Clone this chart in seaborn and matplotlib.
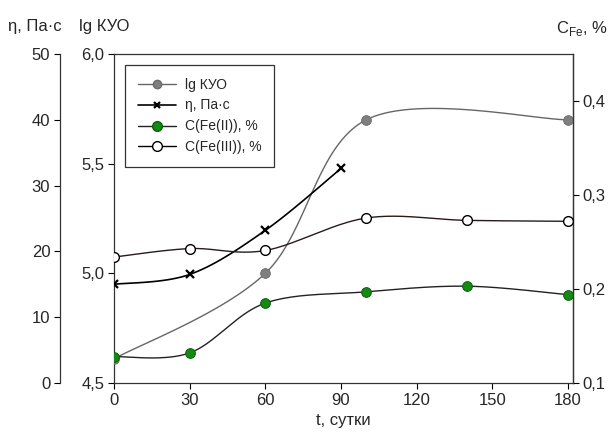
import numpy as np
import pandas as pd
import matplotlib
matplotlib.use("Agg")
import matplotlib.pyplot as plt
import seaborn as sns
from matplotlib.lines import Line2D

# ---- data ----
t_lg = [0, 60, 100, 180]
lg_vals = [4.61, 5.00, 5.70, 5.70]

t_eta = [0, 30, 60, 90]
eta_vals = [15.0, 16.5, 23.2, 32.6]

t_fe = [0, 30, 60, 100, 140, 180]
fe2_vals = [0.128, 0.132, 0.185, 0.197, 0.203, 0.194]
fe3_vals = [0.234, 0.243, 0.241, 0.2755, 0.273, 0.272]

x_ticks = [0, 30, 60, 90, 120, 150, 180]
lg_ticks = [4.5, 5.0, 5.5, 6.0]
eta_ticks = [0, 10, 20, 30, 40, 50]
fe_ticks = [0.1, 0.2, 0.3, 0.4]

sns.set_theme(style="ticks")
plt.rcParams['font.family'] = ['Liberation Sans', 'DejaVu Sans']

W, H = 610, 443
fig = plt.figure(figsize=(W / 100, H / 100), dpi=100)
left, right, top, bottom = 114, 573, 54, 383
ax = fig.add_axes([left / W, 1 - bottom / H, (right - left) / W, (bottom - top) / H])
ax_eta = ax.twinx()
ax_fe = ax.twinx()

ax.set_xlim(0, 182)
ax.set_ylim(4.5, 6.0)
ax_eta.set_ylim(0, 50)
ax_fe.set_ylim(0.1, 0.45)


def smooth(axis, xs, ys, n=40):
    """Excel-style smoothed line (Catmull-Rom Bezier in display space)."""
    pts = axis.transData.transform(np.column_stack([xs, ys]))
    out = [pts[0]]
    m = len(pts)
    for i in range(m - 1):
        p0 = pts[i - 1] if i > 0 else pts[i]
        p1 = pts[i]
        p2 = pts[i + 1]
        p3 = pts[i + 2] if i + 2 < m else pts[i + 1]
        c1 = p1 + (p2 - p0) / 6
        c2 = p2 - (p3 - p1) / 6
        s = np.linspace(0, 1, n)[1:, None]
        b = ((1 - s) ** 3) * p1 + 3 * ((1 - s) ** 2) * s * c1 + 3 * (1 - s) * s ** 2 * c2 + s ** 3 * p2
        out.extend(b)
    out = np.array(out)
    d = axis.transData.inverted().transform(out)
    return d[:, 0], d[:, 1]


lw = 1.0
ms = 7
green = '#138a13'

# lg KUO
sx, sy = smooth(ax, t_lg, lg_vals)
ax.plot(sx, sy, color='#666666', lw=lw, zorder=2)
sns.scatterplot(x=t_lg, y=lg_vals, ax=ax, color='#7f7f7f', edgecolor='#6a6a6a',
                s=ms ** 2, linewidth=0.6, zorder=3, legend=False)

# eta
sx, sy = smooth(ax_eta, t_eta, eta_vals)
ax_eta.plot(sx, sy, color='black', lw=lw * 1.2, zorder=2)
ax_eta.plot(t_eta, eta_vals, linestyle='none', marker='x', color='black', ms=6, mew=1.6, zorder=3)

# Fe(II)
sx, sy = smooth(ax_fe, t_fe, fe2_vals)
ax_fe.plot(sx, sy, color='#222222', lw=lw, zorder=2)
ax_fe.plot(t_fe, fe2_vals, linestyle='none', marker='o', mfc=green, mec='#0b5e0b', ms=ms, mew=0.7, zorder=3)

# Fe(III)
sx, sy = smooth(ax_fe, t_fe, fe3_vals)
ax_fe.plot(sx, sy, color='#2a1a1a', lw=lw, zorder=2)
ax_fe.plot(t_fe, fe3_vals, linestyle='none', marker='o', mfc='white', mec='black', ms=ms, mew=1.0, zorder=3)

fs = 12
# main axes styling
ax.set_xticks(x_ticks)
ax.set_xticklabels([str(v) for v in x_ticks], fontsize=fs)
ax.set_yticks(lg_ticks)
ax.set_yticklabels([f"{v:.1f}".replace('.', ',') for v in lg_ticks], fontsize=fs)
ax.tick_params(direction='out', length=4, width=0.8, color='black', pad=3)
for sp in ax.spines.values():
    sp.set_visible(True)
    sp.set_color('#333333')
    sp.set_linewidth(0.9)

# eta axis on the far left
ax_eta.yaxis.set_ticks_position('left')
ax_eta.yaxis.set_label_position('left')
ax_eta.spines['left'].set_position(('axes', -(left - 60) / (right - left)))
for k in ['right', 'top', 'bottom']:
    ax_eta.spines[k].set_visible(False)
ax_eta.spines['left'].set_visible(True)
ax_eta.spines['left'].set_color('#333333')
ax_eta.spines['left'].set_linewidth(0.9)
ax_eta.set_yticks(eta_ticks)
ax_eta.set_yticklabels([str(v) for v in eta_ticks], fontsize=fs)
ax_eta.tick_params(axis='y', direction='out', length=4, width=0.8, color='black', pad=3)

# Fe axis on right
for k in ['left', 'top', 'bottom']:
    ax_fe.spines[k].set_visible(False)
ax_fe.spines['right'].set_color('#333333')
ax_fe.spines['right'].set_linewidth(0.9)
ax_fe.set_yticks(fe_ticks)
ax_fe.set_yticklabels([f"{v:.1f}".replace('.', ',') for v in fe_ticks], fontsize=fs)
ax_fe.tick_params(axis='y', direction='out', length=4, width=0.8, color='black', pad=3)

ax.set_xlabel('t, сутки', fontsize=fs, labelpad=4)

# axis titles
fig.text(8 / W, 1 - 26 / H, 'η, Па·с', fontsize=fs, va='center', ha='left')
fig.text(79 / W, 1 - 26 / H, 'lg КУО', fontsize=fs, va='center', ha='left')
fig.text(608 / W, 1 - 29 / H, r'C$_{\mathregular{Fe}}$, %', fontsize=fs, va='center', ha='right')

# legend
handles = [
    Line2D([], [], color='#666666', lw=lw, marker='o', mfc='#7f7f7f', mec='#6a6a6a', ms=6),
    Line2D([], [], color='black', lw=lw * 1.2, marker='x', ms=5, mew=1.6),
    Line2D([], [], color='#222222', lw=lw, marker='o', mfc=green, mec='#0b5e0b', ms=7),
    Line2D([], [], color='black', lw=lw, marker='o', mfc='white', mec='black', ms=7),
]
labels = ['lg КУО', 'η, Па·с', 'C(Fe(II)), %', 'C(Fe(III)), %']
leg = ax_fe.legend(handles, labels, loc='upper left',
                   bbox_to_anchor=((125 - left) / (right - left), 1 - (65 - top) / (bottom - top)),
                   fontsize=10, frameon=True, fancybox=False, edgecolor='black',
                   borderpad=0.9, handlelength=2.8, handletextpad=0.6, labelspacing=0.5,
                   borderaxespad=0)
leg.get_frame().set_linewidth(0.9)
leg.set_zorder(10)

fig.savefig('out.png', dpi=100)
